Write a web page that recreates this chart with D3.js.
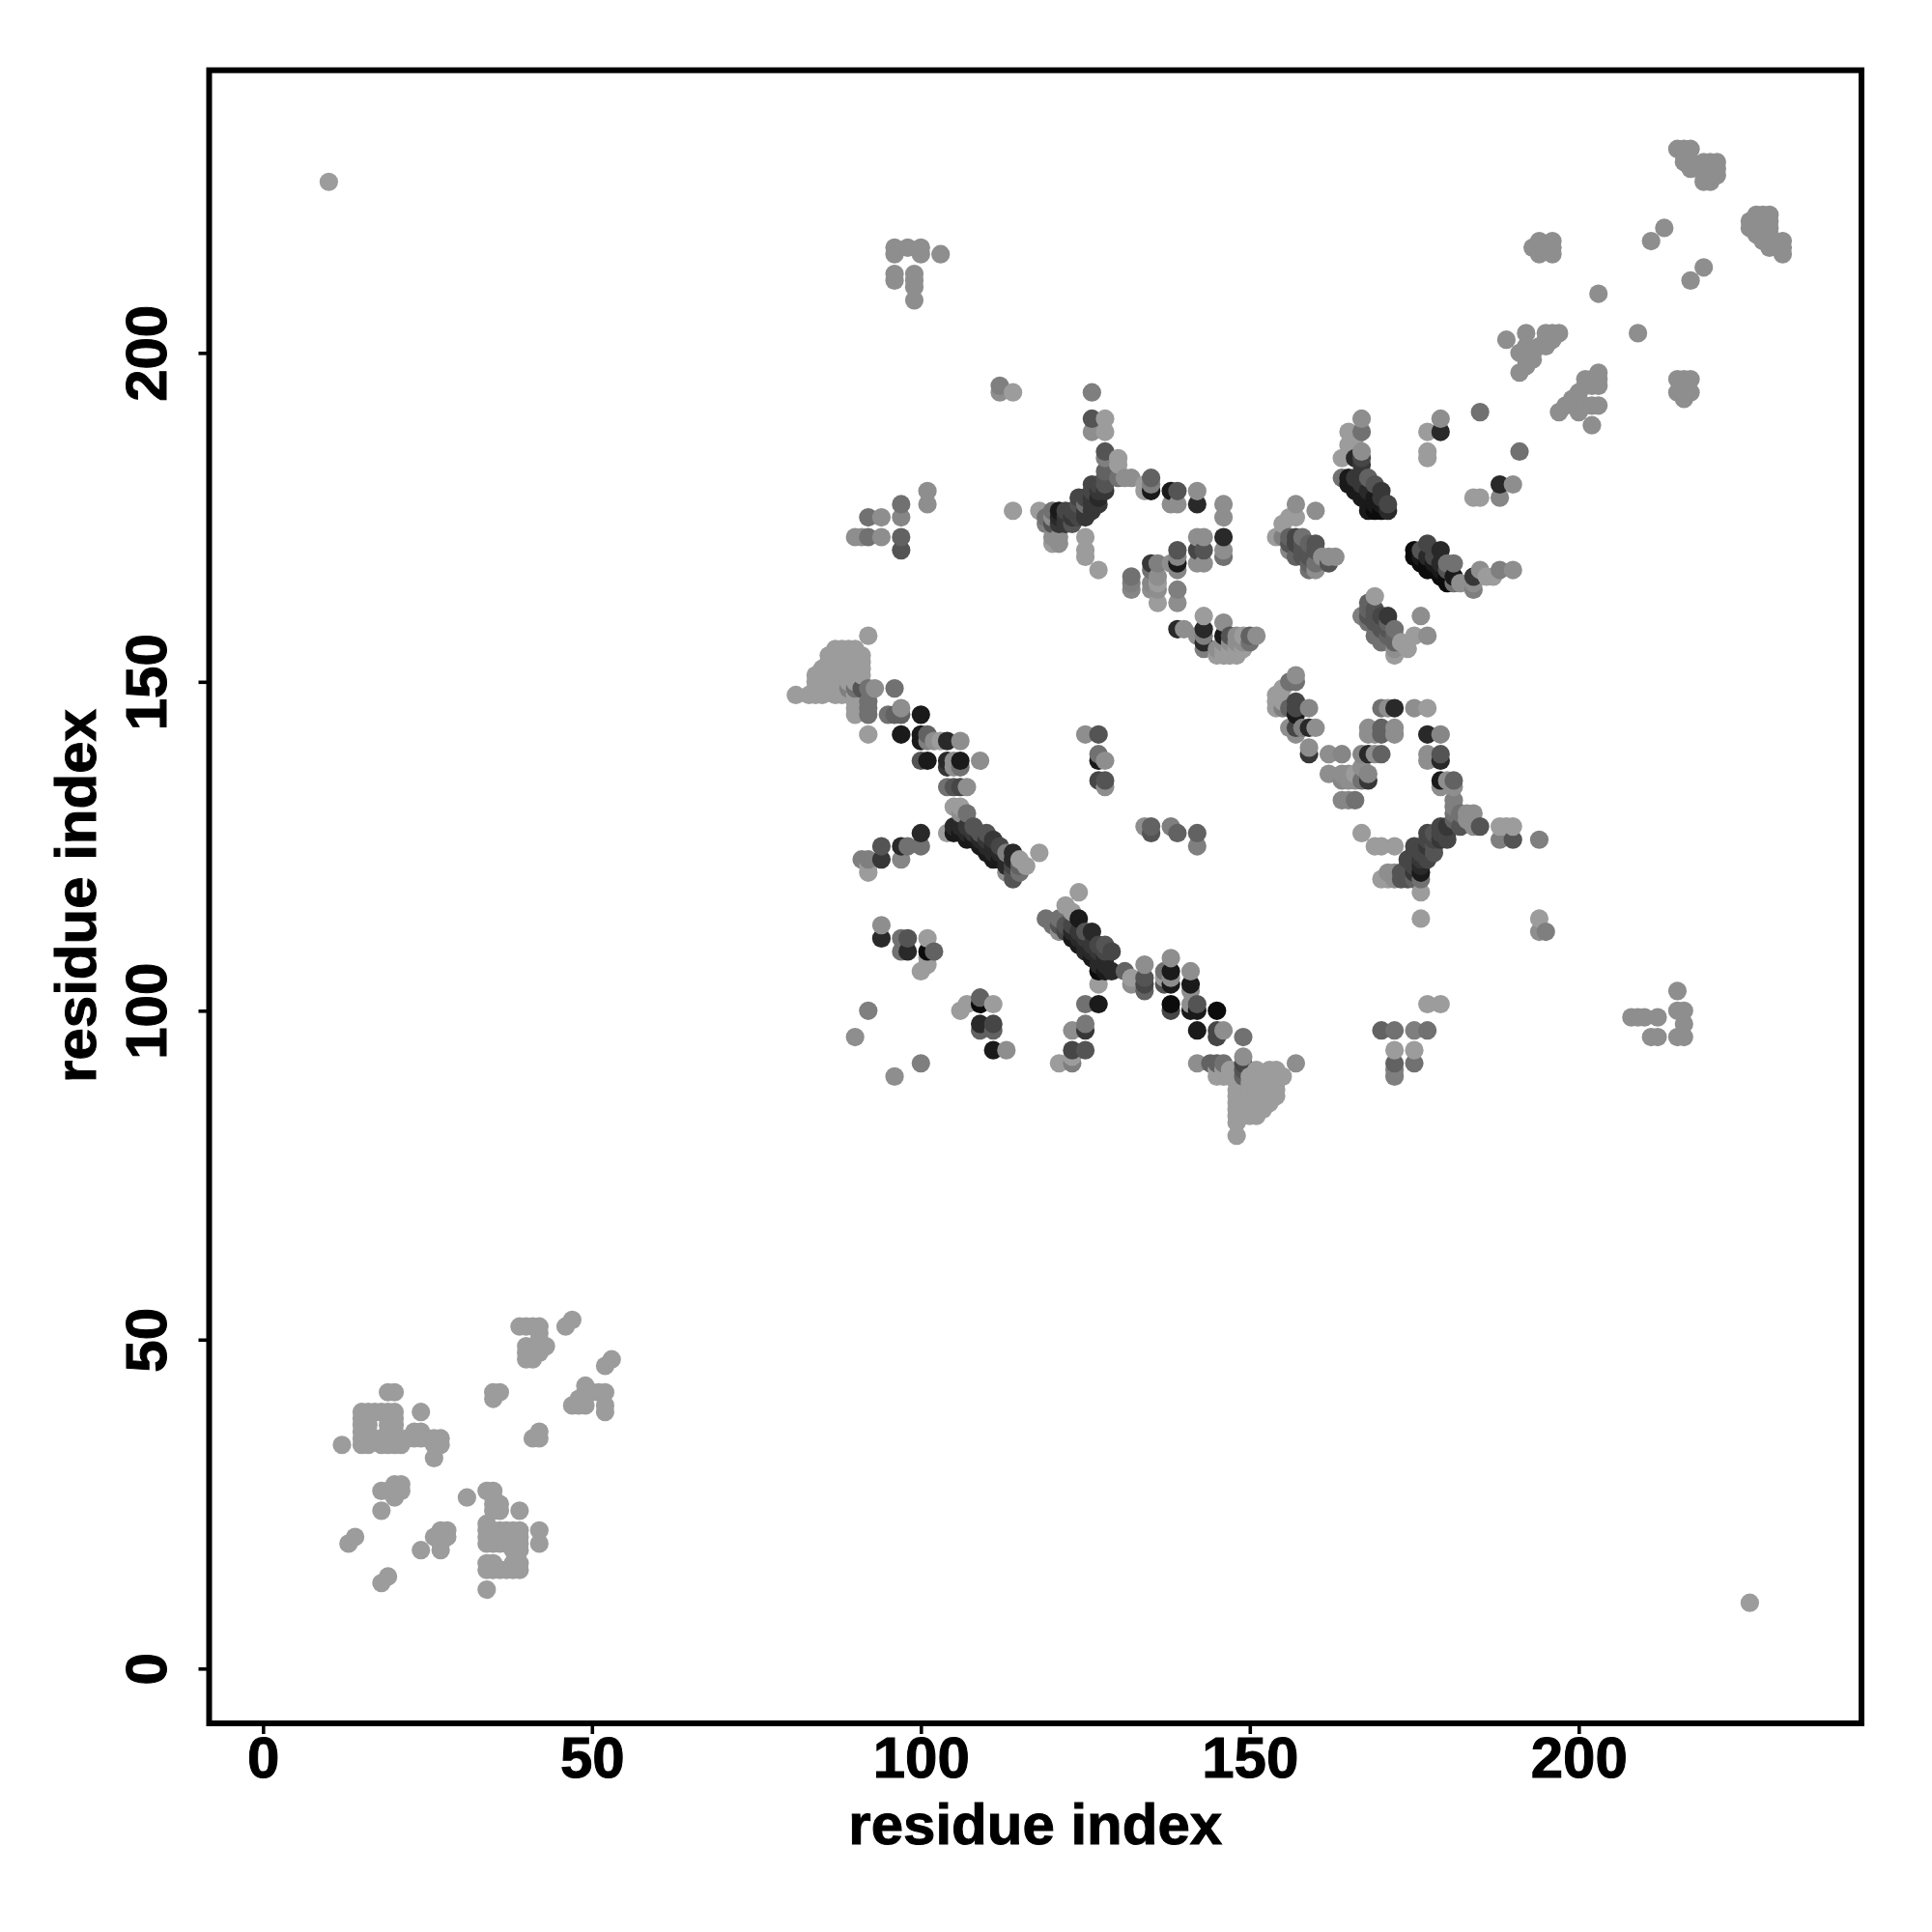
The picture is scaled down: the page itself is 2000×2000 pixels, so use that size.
<!DOCTYPE html>
<html><head><meta charset="utf-8">
<script src="https://cdn.jsdelivr.net/npm/d3@7/dist/d3.min.js"></script>
<style>html,body{margin:0;padding:0;background:#fff}svg{display:block}</style>
</head><body><div id="chart"></div>
<script>
const tickValuesX = [0, 50, 100, 150, 200];
const tickValuesY = [0, 50, 100, 150, 200];
const xTitle = "residue index";
const yTitle = "residue index";

// [residue i, residue j] faintest contacts, strength 0
const faintLower = [
[10,226],[226,10],[12,34],[15,34],[15,35],[15,36],[15,37],[15,38],[15,39],[16,34],[16,35],[16,36],[16,37],[16,38],[16,39],[17,39],[18,39],[18,34],[18,35],[19,34],[19,35],[19,36],[19,37],[19,38],[19,39],[20,34],[20,35],[20,36],[20,37],[20,38],[20,39],[21,34],[19,42],[20,42],[24,39],[23,36],[24,36],[22,35],[23,35],[24,35],[25,35],[26,35],[27,35],[26,34],[27,34],[26,32],
[18,27],[19,27],[20,28],[21,28],[20,26],[20,27],[21,27],[18,24],[14,20],[13,19],[19,14],[18,13],[24,18],[27,18],[27,19],[27,21],[28,21],[28,20],[26,20],[27,20],
[31,26],[34,27],[35,27],[35,26],[35,25],[36,25],[35,24],[36,24],[39,24],[34,22],[34,21],[34,20],[34,19],[35,21],[35,20],[35,19],[36,20],[36,19],[36,21],[37,21],[38,21],[39,21],[37,20],[38,20],[39,20],[37,19],[38,19],[39,19],[38,18],[39,18],[42,21],[42,19],[34,16],[34,15],[35,16],[35,15],[36,15],[37,15],[38,15],[39,15],[38,16],[39,16],[34,12],
[39,52],[40,52],[41,52],[42,52],[42,51],[42,50],[42,49],[43,49],[40,47],[40,48],[40,49],[41,47],[41,48],[42,48],[46,52],[47,53],[52,46],[53,47],[35,42],[36,42],[35,41],[41,35],[42,36],[42,35],[47,40],[48,40],[49,40],[48,41],[49,43],[49,42],[50,42],[51,42],[52,42],[52,40],[52,39],
[87,155],[88,155],[89,155],[90,155],[86,154],[87,154],[88,154],[89,154],[90,154],[91,154],[86,153],[87,153],[88,153],[89,153],[90,153],[91,153],[85,152],[86,152],[87,152],[88,152],[89,152],[90,152],[91,152],[84,151],[85,151],[86,151],[87,151],[88,151],[89,151],[90,151],[91,151],[84,150],[85,150],[86,150],[87,150],[88,150],[89,150],[90,150],[84,149],[85,149],[86,149],[87,149],[88,149],[81,148],[83,148],[84,148],[85,148],[87,148],[88,148],[89,148],[90,148],
[92,157],[90,147],[90,146],[90,145],[92,142],[118,124],[124,118],[92,121],[92,122],
[146,91],[145,91],[147,91],[145,90],[146,90],[147,90],[151,91],[153,91],[154,91],[150,90],[151,90],[152,90],[153,90],[154,90],[155,90],[150,89],[151,89],[152,89],[153,89],[154,89],[148,88],[149,88],[150,88],[151,88],[152,88],[153,88],[154,88],[148,87],[149,87],[150,87],[151,87],[152,87],[153,87],[154,87],[148,86],[149,86],[150,86],[151,86],[152,86],[153,86],[148,85],[149,85],[150,85],[151,85],[152,85],[148,84],[149,84],[150,84],[151,84],[148,83],[148,81],
[172,94],[175,94],[177,101],[179,101],[167,127],[169,125],[170,125],[172,125],[170,120],[171,120],[176,118],[176,114],[194,114],
[146,154],[147,154],[148,154],[146,155],[147,155],[148,155],[149,155],[145,154],[149,157],[114,176],[118,176],[127,167],[125,172],[125,170],[125,169]
];

// upper-right faint contacts, strength 1
const faintUpper = [
[215,231],[216,231],[217,231],[216,229],[217,229],[216,230],[217,228],[219,229],[220,229],[221,229],[219,228],[220,228],[221,228],[219,227],[220,227],[221,227],[219,226],[220,226],
[213,219],[211,217],[219,213],[217,211],[203,209],[209,203],
[226,219],[226,220],[227,221],[228,221],[229,221],[227,220],[228,220],[229,220],[227,219],[228,219],[229,219],[228,218],[229,218],[228,217],[229,216],[227,218],[231,217],[231,216],[231,215],
[215,196],[216,196],[217,196],[215,194],[216,194],[217,194],[216,195],[216,193],
[194,217],[196,217],[193,216],[194,216],[195,216],[196,216],[194,215],[196,215],
[203,197],[203,196],[203,195],[202,196],[201,196],[201,195],[202,195],[200,194],[199,193],[198,192],[197,191],[200,191],[203,192],[202,192],[201,192],[202,189],
[189,202],[192,203],[195,203],[196,203],[197,203],[195,202],[196,202],[191,200],[192,201],[193,200],[194,201],[195,201],[192,199],[193,199],[191,197],[192,198],
[96,216],[96,215],[98,216],[100,216],[100,215],[103,215],[96,212],[96,211],[99,212],[99,211],[99,210],[99,208],
[208,99],[209,99],[210,99],[212,99],[215,100],[216,100],[216,98],[211,96],[212,96],[215,96],[216,96],[215,103]
];

// [residue i, residue j, strength 0..10], central beta-sheet contacts
const gradedLowerBand = [
[89,149,2],[90,149,3],[91,149,5],[92,149,3],[93,149,1],[96,149,3],[92,147,3],[92,146,3],[92,145,3],[96,145,4],[97,145,4],[97,146,1],[95,145,3],[100,145,9],
[97,142,9],[100,142,9],[100,141,9],[101,142,4],[101,141,2],[102,141,1],[103,141,0],[104,141,8],[106,141,1],
[100,138,5],[101,138,9],[104,138,8],[105,138,1],[106,138,9],[109,138,1],[104,137,7],[105,137,1],[106,137,3],
[104,134,3],[105,134,5],[106,134,6],[107,134,1],[105,131,0],[106,131,0],[106,130,1],[107,130,3],
[105,128,8],[105,127,9],[106,128,8],[106,127,9],[107,128,7],[107,127,8],[107,126,9],[108,128,5],[108,127,7],[108,126,9],[109,127,5],[109,126,8],[109,125,9],[110,127,5],[110,126,7],[110,125,8],[110,124,9],[111,126,7],[111,125,8],[111,124,8],[111,123,9],[112,125,6],[112,124,8],[112,123,9],[113,124,2],[113,123,8],[113,122,8],[113,121,1],[114,124,8],[114,123,8],[114,122,6],[114,121,5],[114,120,5],[115,123,0],[115,122,4],[115,121,3],[116,122,0],
[104,127,0],[100,127,8],[100,125,3],[94,125,5],[94,123,7],[97,125,8],[98,125,3],[97,123,1.5],[92,123,2],[91,123,2],
[125,142,1],[127,142,5],[127,139,3],[128,138,1],[127,138,9],[127,135,6],[128,135,5],[128,134,1],
[134,128,1],[135,128,4],[135,127,5],[138,128,2],[139,127,4],[142,127,4],[142,125,2]
];

const gradedMiddleBand = [
[94,113,1],[94,111,8],[97,111,3],[98,111,5],[97,109,3],[98,109,8],[101,111,0],[101,109,10],[102,109,4],[101,107,0],[100,106,0],[101,108,0],
[92,100,2],[90,96,1],[96,90,1],[100,92,2],
[106,100,0],[107,101,0],[109,102,4],[109,101,10],[111,101,0],[109,98,8],[109,97,4],[111,98,6],[111,97,4],[111,94,9],[113,94,1],
[119,114,3],[120,113,3],[121,114,3],[121,113,5],[121,112,1],[122,116,0],[122,113,5],[122,112,6],[123,115,0],[123,113,6],[123,112,8],[123,111,9],[124,114,9],[124,112,7],[124,111,8],[125,112,5],[125,111,7],[125,110,8],[126,112,8],[124,110,9],[126,108,9],[126,109,8],[128,110,5],[129,109,6],[127,110,6],[127,109,7],[128,109,6],[128,108,8],[127,108,8],[127,107,8],[128,107,8],[127,106,10],[128,106,9],[129,106,8],[125,109,8],[126,110,7],
[131,106,4],[132,105,0],[132,104,1],[127,104,0],[125,101,3],[127,101,9],[123,97,1],[125,98,2.5],[125,97,7],[123,94,6],[125,94,5],[121,92,0],[123,93,0],[123,92,2],
[134,107,1],[134,105,5],[134,104,6],[134,103,4],[137,106,3],[137,105,0],[137,104,5],[138,108,1],[138,106,9],[138,105,1],[138,104,9],[138,101,10],[138,100,6],
[141,106,1],[141,104,9],[141,103,1],[141,101,1],[142,101,5],[141,100,9],[142,100,9],[142,97,9],[142,92,1],
[145,100,10],[145,97,6],[146,97,1],[145,96,6],[149,96,3],[145,92,4],[146,92,3],[144,92,4],[149,93,1],[149,92,6],[149,91,5],[149,90,4],[157,92,1],
[170,97,4],[172,97,3],[175,97,2],[177,97,3],[175,92,3],[172,92,4],[172,91,2],[172,90,2]
];

const gradedRightBand = [
[157,151,1],[156,150,3],[157,150,3],[155,149,0],[154,148,0],[154,147,0],[154,146,0],[155,147,0],[155,146,2],[156,146,4],[157,147,6],[157,146,6],[157,145,9],[159,146,1.5],
[156,143,1],[157,143,6],[158,143,2],[159,143,8],[160,143,1],[157,142,1],[159,140,1],[159,139,7],[162,139,1],[164,139,1.5],
[162,136,1],[164,136,1],[164,135,1.5],[165,136,1],[165,135,1],[166,136,0],[166,135,1],[167,137,1],[168,136,1.5],[167,135,3],[168,135,7],[164,132,1.5],[165,132,1.5],[166,132,3],
[167,139,1.5],[168,139,8],[169,139,1],[170,139,4],[168,143,1],[168,142,1],[169,142,1],[170,143,4],[170,142,4],[172,143,1],[172,142,1],
[170,146,3],[171,146,1],[172,146,8],[175,146,1],[177,146,0],[177,142,8],[179,142,1.5],[177,139,1],[177,138,1],[179,139,5],[179,138,8],[179,135,9],[180,135,1],[181,135,4],[179,134,1],[181,134,1],
[181,132,2],[181,131,2],[181,130,3],[182,130,3],[183,130,1],[184,130,1],[183,129,1],[184,128,1],[185,128,5],[188,128,0],[189,128,0],[190,128,0],[188,126,2],[190,126,5],[194,126,2],
[171,121,1],[172,121,1],[172,120,1],[173,121,5],[173,120,5],[174,123,6],[174,122,5],[174,121,5],[174,120,5],[175,125,6],[175,124,6],[175,123,6],[175,122,6],[175,121,7],[175,120,4],[176,124,6],[176,123,7],[176,122,8],[176,121,9],[176,120,3],[177,127,6],[177,126,6],[177,125,7],[177,124,6],[177,123,6],[178,127,5],[178,126,6],[178,125,5],[178,124,5],[179,128,6],[179,127,6],[179,126,7],[180,128,7],[180,127,6],[180,126,6],[181,129,4],[182,128,5],[194,112,1],[195,112,2]
];

const gradedUpperBand = [
[167,190,1],[167,188,3],[165,188,0],[166,187,0],[165,186,0],[167,185,1],[167,184,6],[166,184,8],[164,184,0],[167,183,7],[164,181,3],[165,181,9],[165,180,9],[166,181,7],[166,180,9],[166,179,9],[167,180,7],[167,179,9],[168,181,4],[168,179,8],[168,178,9],[169,180,5],[170,179,7],[170,178,7],[171,177,6],[167,178,9],[168,177,9],[169,178,9],[169,177,9],[170,177,9],[168,176,9],[169,176,10],[170,176,10],[171,176,8],
[177,188,0],[179,188,8],[179,190,1],[177,185,0],[177,184,0],[185,191,3],[191,185,3],[188,180,8],[190,180,1],[188,178,1.5],[184,178,0],[185,178,0],
[175,170,10],[175,169,10],[176,170,5],[176,169,9],[176,168,10],[177,171,6],[177,169,8],[177,168,10],[177,167,10],[178,169,6],[178,168,9],[178,167,10],[179,170,8],[179,168,8],[179,167,9],[179,166,10],[180,168,3],[180,167,5],[180,166,10],[180,165,10],[181,168,3],[181,166,9],[181,165,3],[184,166,7],[185,167,1],[182,165,1],[184,165,1],[184,164,2],[186,166,0],[187,166,0],[188,167,2],[190,167,1],
[157,177,1],[160,176,1],[157,175,0],[156,175,0],[155,174,0],[154,172,0],[155,172,2],[156,172,4],[157,172,6],[158,172,3],[158,171,5],[158,170,5],[159,171,4],[159,169,5],[160,171,5],[160,170,5],[159,170,5],[156,171,5],[157,171,6],[156,170,1.5],[157,169,4],[158,169,5],[159,168,4],[160,168,3],[160,167,1],[159,167,3],[161,169,1],[162,168,5],[162,169,1],[163,169,1],
[169,163,0],[168,162,4],[168,161,4],[167,160,2],[168,160,5],[168,159,3],[169,161,5],[169,160,5],[170,160,6],[170,159,5],[171,160,7],[171,159,4],[171,158,5],[169,159,5],[170,158,5],[172,158,3],[172,157,4],[171,157,4],[169,157,3],[170,156,3],[172,156,4],[172,155,1],[172,154,0],[174,155,0],[175,157,0],[176,160,1],[177,157,1],[173,156,0],
[112,195,2],[112,194,1],[114,194,0],[126,194,2],[126,190,5],[128,190,0],[126,188,1],[128,188,0],[128,185,5],[128,184,2],[130,184,0],[130,183,0],[128,182,4],[128,181,5],[130,181,3],[131,181,1],[132,181,1],[134,180,0],[135,181,4],[135,180,2],[135,179,9],[134,179,0],
[138,179,9],[139,179,5],[138,177,1],[139,177,1],[142,179,1],[142,177,8],
[128,180,5],[128,179,7],[127,180,6],[127,179,7],[126,180,6],[126,179,6],[126,178,7],[126,177,7],[126,176,7],[127,178,8],[127,177,7],[125,178,6],[125,177,3],[125,176,7],[125,175,7],[124,178,6],[124,177,5],[124,176,6],[124,175,6],[123,176,6],[123,175,7],[123,174,5],[122,176,6],[122,175,7],[122,174,7],[121,176,9],[121,175,8],[121,174,7],[120,176,3],[120,175,1],[120,174,5],[119,175,3],[119,174,2],
[120,172,1],[121,172,1],[121,171,1],[120,171,0],
[101,179,1],[101,177,1],[97,177,3],[97,175,1.5],[97,172,4],[97,170,5],[92,175,3],[94,175,1],[90,172,1],[91,172,1],[92,172,3],[94,172,1],
[132,166,3],[132,165,2],[132,164,1.5],[135,168,7],[136,168,2],[135,167,3],[135,165,1.5],[135,164,1],[136,166,1],[136,165,0],[136,164,1],[136,162,0],
[139,170,5],[139,169,1.5],[139,168,9],[139,167,1.5],[138,168,1],[139,164,2],[139,162,1],
[142,172,1],[143,172,1],[142,170,6],[143,170,5],[142,168,1],[143,168,1],
[146,177,1],[146,175,1],[146,172,8],[146,170,1],[146,169,3],
[139,158,8],[140,158,1],[143,160,0],[143,158,8],[142,157,1],[143,157,2],[143,156,8],[143,155,2],
[146,159,1],[146,157,9],[147,157,5],[148,157,1],[150,157,4],[151,157,1],[150,156,3],[146,156,1],[147,156,1],[148,156,1],[149,156,1],[145,155,1]
];

const width = 2000, height = 2000;
const frame = {left: 216.5, right: 1927, top: 72.7, bottom: 1784};
const x = d3.scaleLinear().domain([-8.19, 242.98]).range([frame.left, frame.right]);
const y = d3.scaleLinear().domain([-8.33, 242.97]).range([frame.bottom, frame.top]);
const grey = d3.scaleLinear().domain([0, 10]).range([156, 12]);
const fontFamily = '"Liberation Sans", Arial, sans-serif';

const contacts = [
  ...faintLower.map(d => [d[0], d[1], 0]),
  ...faintUpper.map(d => [d[0], d[1], 1]),
  ...gradedLowerBand, ...gradedMiddleBand, ...gradedRightBand, ...gradedUpperBand
].sort((a, b) => d3.ascending(a[0], b[0]) || d3.ascending(a[1], b[1]));

const svg = d3.select("#chart").append("svg").attr("width", width).attr("height", height);
svg.append("rect").attr("width", width).attr("height", height).attr("fill", "#fff");

svg.append("g").selectAll("circle").data(contacts).join("circle")
  .attr("cx", d => x(d[0])).attr("cy", d => y(d[1])).attr("r", 9.6)
  .attr("fill", d => { const g = Math.round(grey(d[2])); return `rgb(${g},${g},${g})`; });

const gx = svg.append("g").attr("transform", `translate(0,${frame.bottom})`)
  .call(d3.axisBottom(x).tickValues(tickValuesX).tickSize(11).tickPadding(9));
const gy = svg.append("g").attr("transform", `translate(${frame.left},0)`)
  .call(d3.axisLeft(y).tickValues(tickValuesY).tickSize(11).tickPadding(0));
for (const g of [gx, gy]) {
  g.select(".domain").remove();
  g.selectAll(".tick line").attr("stroke", "#000").attr("stroke-width", 3.6);
  g.selectAll(".tick text").attr("fill", "#000").attr("stroke", "#000").attr("stroke-width", 1)
    .attr("font-family", fontFamily).attr("font-weight", "bold").attr("font-size", 60);
}
gx.selectAll(".tick text").attr("dy", null).attr("y", null)
  .attr("dominant-baseline", "auto").attr("y", 1840 - frame.bottom);
gy.selectAll(".tick text").attr("x", null).attr("dy", null)
  .attr("transform", `translate(${172 - frame.left},0) rotate(-90)`)
  .attr("text-anchor", "middle");

svg.append("rect").attr("x", frame.left).attr("y", frame.top)
  .attr("width", frame.right - frame.left).attr("height", frame.bottom - frame.top)
  .attr("fill", "none").attr("stroke", "#000").attr("stroke-width", 6);

svg.append("text").attr("x", (frame.left + frame.right) / 2).attr("y", 1909)
  .attr("text-anchor", "middle").attr("font-family", fontFamily).attr("font-weight", "bold")
  .attr("font-size", 60).attr("fill", "#000").attr("stroke", "#000").attr("stroke-width", 1).text(xTitle);
svg.append("text").attr("transform", `translate(99,927.5) rotate(-90)`)
  .attr("text-anchor", "middle").attr("font-family", fontFamily).attr("font-weight", "bold")
  .attr("font-size", 60).attr("fill", "#000").attr("stroke", "#000").attr("stroke-width", 1).text(yTitle);
</script></body></html>
